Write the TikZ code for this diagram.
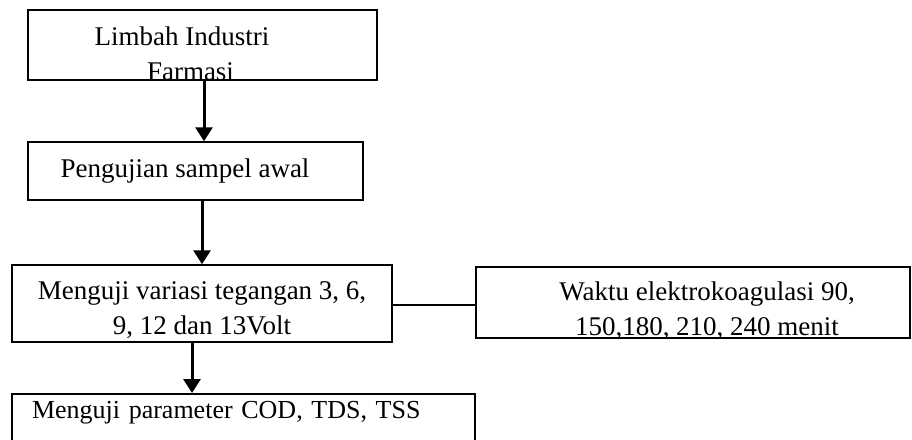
\documentclass[tikz,border=0pt]{standalone}
\usepackage{fontspec}
\setmainfont{Liberation Serif}
\usetikzlibrary{positioning, arrows.meta, calc}

\tikzset{
    kotak/.style={draw, line width=1.5pt, inner sep=0pt, align=center,
        font=\fontsize{27}{35}\selectfont},
    panah/.style={line width=3pt, -{Triangle[width=17pt,length=14pt]}},
}

\begin{document}
\begin{tikzpicture}[x=1pt,y=-1pt]
    \useasboundingbox (0,0) rectangle (912,439);
    \clip (0,0) rectangle (912,439);

    % baseline of a two-line node sits on its last line
    \node[kotak, minimum width=349pt, text height=70pt, text depth=0pt] (limbah) at (202.5,45) {\hspace*{-41pt}Limbah Industri\\\hspace*{-24pt}Farmasi};
    \node[kotak, minimum width=335pt, text height=35pt, text depth=23pt] (sampel) at (195.5,171) {\hspace*{-21pt}Pengujian sampel awal};
    \node[kotak, minimum width=380pt, text height=69pt, text depth=8pt] (tegangan) at (202,303.5) {Menguji variasi tegangan 3, 6,\\9, 12 dan 13Volt};
    \node[kotak, minimum width=434pt, text height=68pt, text depth=3pt] (waktu) at (693,302.5) {\hspace*{28pt}Waktu elektrokoagulasi 90,\\\hspace*{28pt}150,180, 210, 240 menit};
    % kotak terakhir terpotong di bawah
    \node[kotak, anchor=north, align=left, font=\fontsize{26}{35}\selectfont, inner xsep=20pt, text width=423pt, text height=25pt, text depth=60pt] (parameter) at (243.5,393) {Menguji parameter COD, TDS, TSS};

    \path[panah]
    ([xshift=1.5pt]limbah.south) edge ([xshift=1.5pt]limbah.south |- sampel.north)
    ([xshift=6.5pt]sampel.south) edge ([xshift=6.5pt]sampel.south |- tegangan.north)
    ([xshift=-10pt]tegangan.south) edge ([xshift=-10pt]tegangan.south |- parameter.north)
    ;
    \draw[line width=1.5pt] ([yshift=-1.5pt]tegangan.east) -- ([yshift=-1.5pt]tegangan.east -| waktu.west);
\end{tikzpicture}
\end{document}
